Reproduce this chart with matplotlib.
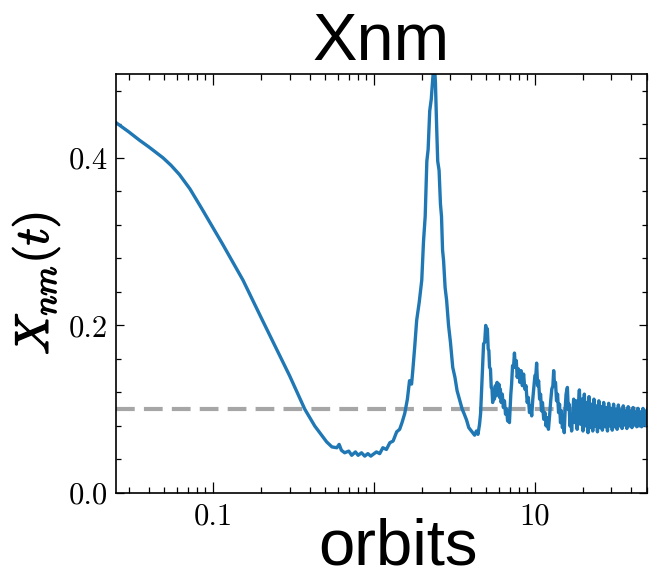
import matplotlib
matplotlib.use("Agg")
import matplotlib.pyplot as plt
import matplotlib.patheffects as pe
from matplotlib.ticker import FixedLocator, FixedFormatter, LogLocator, MultipleLocator, NullFormatter

# ---- data: X_nm(t) versus time in orbits ----
# early decay (smooth)
t_decay = [0.025, 0.03, 0.035, 0.04, 0.049, 0.055, 0.062, 0.072, 0.085, 0.1,
           0.115, 0.13, 0.154, 0.177, 0.2, 0.25, 0.3, 0.373, 0.43, 0.51]
x_decay = [0.442, 0.431, 0.421, 0.413, 0.400, 0.391, 0.380, 0.363, 0.340, 0.317,
           0.297, 0.279, 0.254, 0.230, 0.209, 0.171, 0.140, 0.100, 0.080, 0.061]

# minimum plateau and rise
t_plateau = [0.55, 0.59, 0.61, 0.63, 0.66, 0.70, 0.73, 0.77, 0.80, 0.84,
             0.88, 0.92, 0.96, 0.99, 1.04, 1.09, 1.14, 1.2, 1.26, 1.32,
             1.39, 1.45, 1.5, 1.56, 1.62, 1.67, 1.72, 1.75, 1.8, 1.85,
             1.92, 1.99]
x_plateau = [0.055, 0.054, 0.058, 0.051, 0.048, 0.050, 0.045, 0.049, 0.045, 0.048,
             0.044, 0.047, 0.044, 0.046, 0.049, 0.047, 0.054, 0.052, 0.060, 0.062,
             0.073, 0.076, 0.084, 0.095, 0.112, 0.134, 0.130, 0.146, 0.175, 0.206,
             0.228, 0.254]

# main resonance peak
t_peak = [2.04, 2.09, 2.14, 2.18, 2.23, 2.28, 2.33, 2.38, 2.42, 2.46,
          2.5, 2.55, 2.6, 2.64, 2.68, 2.72, 2.78, 2.84, 2.92, 3.0,
          3.1, 3.2, 3.3, 3.42, 3.55, 3.66, 3.78, 3.9, 4.05, 4.24]
x_peak = [0.300, 0.330, 0.396, 0.410, 0.456, 0.470, 0.495, 0.515, 0.490, 0.440,
          0.396, 0.385, 0.345, 0.330, 0.290, 0.277, 0.245, 0.230, 0.200, 0.180,
          0.150, 0.138, 0.122, 0.111, 0.100, 0.094, 0.087, 0.078, 0.074, 0.069]

# secondary oscillations
t_ring = [4.35, 4.45, 4.55, 4.62, 4.7, 4.75, 4.82, 4.9, 4.97, 5.03,
          5.09, 5.15, 5.2, 5.25, 5.32, 5.38, 5.44, 5.49, 5.56, 5.63,
          5.7, 5.78, 5.85, 5.92, 6.0, 6.06, 6.13, 6.2, 6.3, 6.4,
          6.5, 6.6, 6.7, 6.8, 6.9, 6.98, 7.05, 7.12, 7.2, 7.3,
          7.4, 7.5, 7.6, 7.7, 7.8, 7.95, 8.1, 8.25, 8.4, 8.55,
          8.7, 8.85, 9.0, 9.15, 9.3, 9.45, 9.6, 9.75, 9.9, 10.05,
          10.2, 10.3, 10.45, 10.6, 10.75, 10.9, 11.05, 11.2, 11.4, 11.6,
          11.8, 12.0, 12.2, 12.4, 12.6, 12.8, 13.0, 13.15, 13.3, 13.5,
          13.7, 13.9, 14.1, 14.3, 14.5, 14.7, 14.9, 15.1, 15.3, 15.5,
          15.7, 16.0, 16.2, 16.4, 16.6, 16.8, 17.0, 17.2, 17.5, 17.8,
          18.1, 18.4, 18.7]
x_ring = [0.074, 0.070, 0.082, 0.095, 0.128, 0.150, 0.178, 0.180, 0.200, 0.190,
          0.196, 0.172, 0.170, 0.150, 0.148, 0.126, 0.124, 0.108, 0.122, 0.112,
          0.128, 0.116, 0.132, 0.118, 0.130, 0.114, 0.124, 0.108, 0.118, 0.102,
          0.110, 0.094, 0.100, 0.086, 0.094, 0.084, 0.100, 0.118, 0.130, 0.152,
          0.150, 0.167, 0.150, 0.158, 0.138, 0.148, 0.132, 0.146, 0.128, 0.142,
          0.124, 0.128, 0.108, 0.114, 0.096, 0.104, 0.092, 0.112, 0.126, 0.140,
          0.142, 0.155, 0.128, 0.134, 0.112, 0.118, 0.098, 0.108, 0.088, 0.096,
          0.080, 0.090, 0.076, 0.092, 0.110, 0.124, 0.128, 0.146, 0.130, 0.132,
          0.110, 0.118, 0.096, 0.106, 0.084, 0.098, 0.078, 0.086, 0.072, 0.100,
          0.118, 0.126, 0.100, 0.106, 0.080, 0.092, 0.074, 0.090, 0.112, 0.084,
          0.110, 0.076, 0.104]

# late-time fast oscillation around saturation
t_tail = [19.0, 19.3, 19.7, 20.0, 20.4, 20.7, 21.1, 21.5, 21.8, 22.2,
          22.6, 23.0, 23.4, 23.8, 24.2, 24.6, 25.1, 25.5, 26.0, 26.4,
          26.9, 27.4, 27.9, 28.4, 28.9, 29.4, 29.9, 30.4, 31.0, 31.5,
          32.1, 32.6, 33.2, 33.8, 34.4, 35.0, 35.6, 36.2, 36.9, 37.5,
          38.2, 38.9, 39.6, 40.3, 41.0, 41.7, 42.4, 43.2, 44.0, 44.7,
          45.5, 46.3, 47.2, 48.0, 48.9, 49.7, 50.5]
x_tail = [0.123, 0.082, 0.112, 0.074, 0.118, 0.080, 0.108, 0.072, 0.115, 0.078,
          0.106, 0.074, 0.112, 0.080, 0.104, 0.073, 0.110, 0.078, 0.103, 0.075,
          0.108, 0.079, 0.102, 0.074, 0.107, 0.080, 0.101, 0.075, 0.106, 0.079,
          0.100, 0.076, 0.105, 0.080, 0.099, 0.077, 0.104, 0.081, 0.098, 0.077,
          0.103, 0.080, 0.098, 0.078, 0.102, 0.081, 0.097, 0.079, 0.101, 0.080,
          0.097, 0.079, 0.101, 0.081, 0.098, 0.080, 0.100]

t_orbits = t_decay + t_plateau + t_peak + t_ring + t_tail
x_nm = x_decay + x_plateau + x_peak + x_ring + x_tail

saturation_level = 0.1

x_major = [0.1, 1, 10]
x_major_labels = ["0.1", "", "10"]
y_major = [0.0, 0.2, 0.4]
y_major_labels = ["0.0", "0.2", "0.4"]

# ---- figure ----
plt.rcParams["mathtext.fontset"] = "cm"
plt.rcParams["axes.formatter.use_mathtext"] = True

fig = plt.figure(figsize=(6.49, 5.80), dpi=100)
ax = fig.add_axes([0.1787, 0.15, 0.9969 - 0.1787, 0.8724 - 0.15])

ax.plot(t_orbits, x_nm, color="#1f77b4", lw=2.4, solid_joinstyle="round")
ax.axhline(saturation_level, color="#a6a6a6", lw=3.0, ls=(0, (4.5, 2.2)), zorder=1)

ax.set_xscale("log")
ax.set_xlim(0.025, 50)
ax.set_ylim(0.0, 0.5)

ax.xaxis.set_major_locator(FixedLocator(x_major))
ax.xaxis.set_major_formatter(FixedFormatter(x_major_labels))
ax.xaxis.set_minor_locator(LogLocator(base=10, subs=[2, 3, 4, 5, 6, 7, 8, 9], numticks=20))
ax.xaxis.set_minor_formatter(NullFormatter())
ax.yaxis.set_major_locator(FixedLocator(y_major))
ax.yaxis.set_major_formatter(FixedFormatter(y_major_labels))
ax.yaxis.set_minor_locator(MultipleLocator(0.04))

ax.tick_params(which="both", direction="in", top=True, right=True, width=0.9)
ax.tick_params(axis="x", which="major", length=8, pad=7)
ax.tick_params(axis="x", which="minor", length=4)
ax.tick_params(axis="y", which="major", length=6, pad=6)
ax.tick_params(axis="y", which="minor", length=3.5)
for lab in ax.get_xticklabels() + ax.get_yticklabels():
    lab.set_fontfamily("cmr10")
    lab.set_fontsize(22)
for sp in ax.spines.values():
    sp.set_linewidth(1.2)

ax.set_title("Xnm", fontsize=48, fontfamily="Liberation Sans", pad=6)
ax.set_xlabel("orbits", fontsize=47, fontfamily="Liberation Sans")
ax.xaxis.set_label_coords(0.531, -0.058)
ylab = ax.set_ylabel(r"$X_{nm}(t)$", fontsize=34)
ylab.set_path_effects([pe.withStroke(linewidth=1.0, foreground="black")])
ax.yaxis.set_label_coords(-0.102, 0.5)

fig.savefig("out.png", dpi=100)
